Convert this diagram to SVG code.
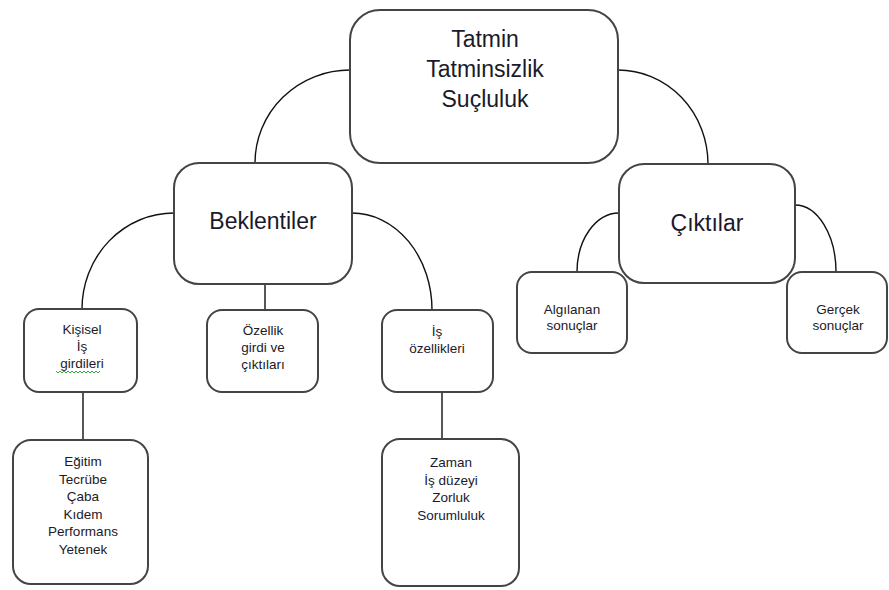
<svg xmlns="http://www.w3.org/2000/svg" width="889" height="590" viewBox="0 0 889 590">
<style>
.box{fill:none;stroke:#444;stroke-width:2}
.con{fill:none;stroke:#111;stroke-width:1.4}
.big{font-family:"Liberation Sans",Arial,sans-serif;font-size:23px;fill:#1a1a2a;text-anchor:middle}
.sm{font-family:"Liberation Sans",Arial,sans-serif;font-size:13.5px;fill:#1a1a2a;text-anchor:middle}
.sq{fill:none;stroke:#3a3;stroke-width:1}
</style>
<rect width="889" height="590" fill="#fff"/>
<g id="connectors">
<path class="con" d="M350,70 A95,93 0 0 0 255,163"/>
<path class="con" d="M618,70 A90,94 0 0 1 708,164"/>
<path class="con" d="M174,213 A92,96 0 0 0 82,309"/>
<path class="con" d="M352,213 A80,97 0 0 1 432,310"/>
<path class="con" d="M265,284 L265,310"/>
<path class="con" d="M619,213 A42,59 0 0 0 577,272"/>
<path class="con" d="M795,205 A41,67 0 0 1 836,272"/>
<path class="con" d="M83,392 L83,440"/>
<path class="con" d="M442,392 L442,439"/>
</g>
<g id="n-top">
<rect class="box" x="350" y="10" width="268" height="153" rx="30"/>
<text class="big" x="485" y="47">Tatmin</text>
<text class="big" x="485" y="77">Tatminsizlik</text>
<text class="big" x="485" y="107">Suçluluk</text>
</g>
<g id="n-beklentiler">
<rect class="box" x="174" y="163" width="178" height="121" rx="25"/>
<text class="big" x="263" y="229">Beklentiler</text>
</g>
<g id="n-ciktilar">
<rect class="box" x="619" y="164" width="176" height="119" rx="25"/>
<text class="big" x="707" y="231">Çıktılar</text>
</g>
<g id="n-algilanan">
<rect class="box" x="517" y="272" width="110" height="81" rx="15"/>
<text class="sm" x="572" y="314">Algılanan</text>
<text class="sm" x="572" y="330">sonuçlar</text>
</g>
<g id="n-gercek">
<rect class="box" x="787" y="272" width="100" height="81" rx="15"/>
<text class="sm" x="838" y="314">Gerçek</text>
<text class="sm" x="838" y="330">sonuçlar</text>
</g>
<g id="n-kisisel">
<rect class="box" x="24" y="309" width="113" height="83" rx="15"/>
<text class="sm" x="82" y="334">Kişisel</text>
<text class="sm" x="82" y="351">İş</text>
<text class="sm" x="82" y="368">girdileri</text>
<path class="sq" d="M56,371 l2,2 l2,-2 l2,2 l2,-2 l2,2 l2,-2 l2,2 l2,-2 l2,2 l2,-2 l2,2 l2,-2 l2,2 l2,-2 l2,2 l2,-2 l2,2 l2,-2 l2,2 l2,-2 l2,2 l2,-2"/>
</g>
<g id="n-ozellik">
<rect class="box" x="207" y="310" width="111" height="82" rx="15"/>
<text class="sm" x="263" y="335">Özellik</text>
<text class="sm" x="263" y="352">girdi ve</text>
<text class="sm" x="263" y="369">çıktıları</text>
</g>
<g id="n-is-ozellikleri">
<rect class="box" x="382" y="310" width="111" height="82" rx="15"/>
<text class="sm" x="437" y="336">İş</text>
<text class="sm" x="437" y="353">özellikleri</text>
</g>
<g id="n-egitim">
<rect class="box" x="13" y="440" width="135" height="144" rx="18"/>
<text class="sm" x="83" y="466">Eğitim</text>
<text class="sm" x="83" y="484">Tecrübe</text>
<text class="sm" x="83" y="501">Çaba</text>
<text class="sm" x="83" y="519">Kıdem</text>
<text class="sm" x="83" y="536">Performans</text>
<text class="sm" x="83" y="554">Yetenek</text>
</g>
<g id="n-zaman">
<rect class="box" x="382" y="439" width="137" height="147" rx="18"/>
<text class="sm" x="451" y="467">Zaman</text>
<text class="sm" x="451" y="485">İş düzeyi</text>
<text class="sm" x="451" y="502">Zorluk</text>
<text class="sm" x="451" y="520">Sorumluluk</text>
</g>
</svg>
